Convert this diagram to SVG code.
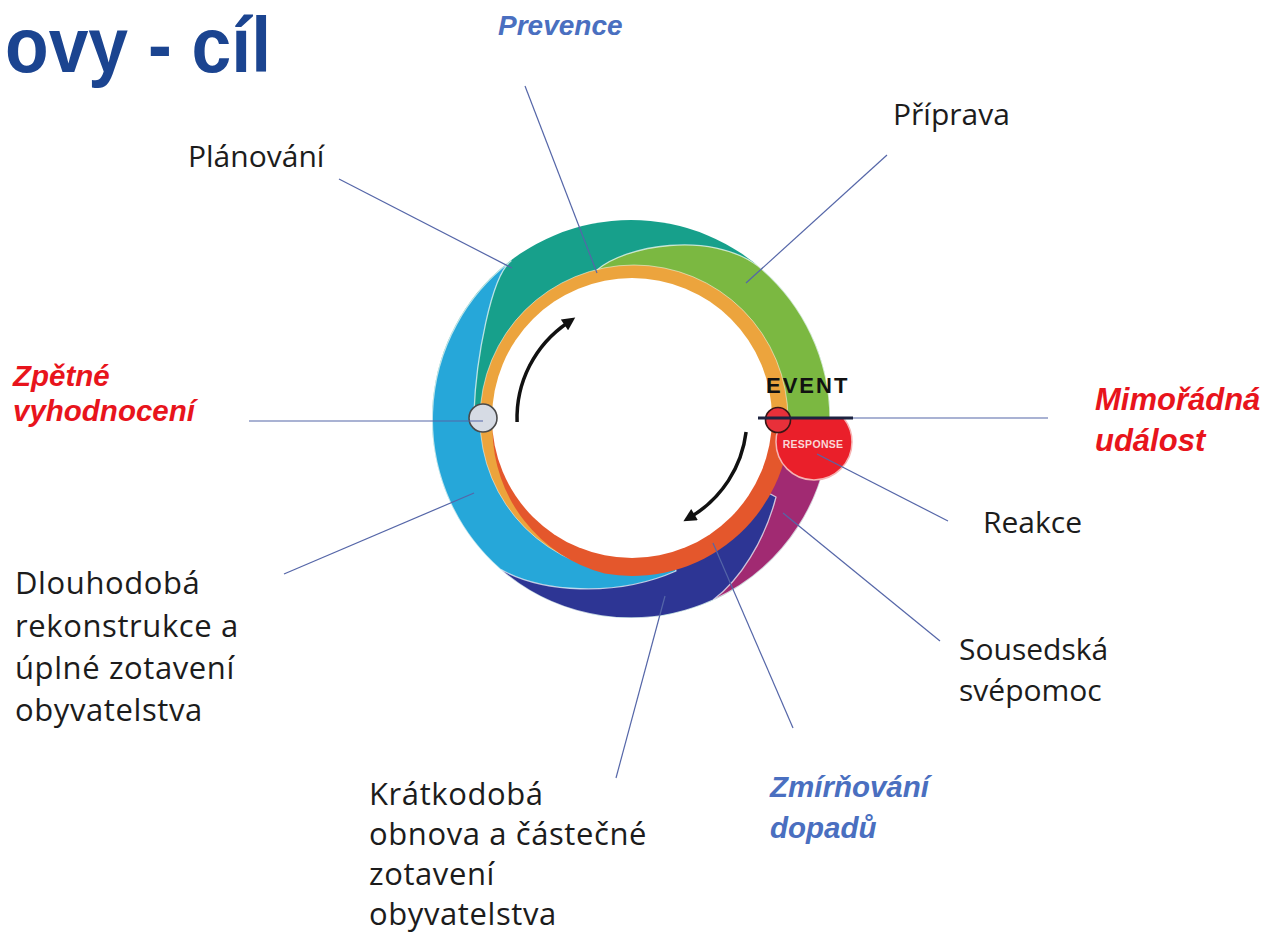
<svg xmlns="http://www.w3.org/2000/svg" width="1270" height="932" viewBox="0 0 1270 932">
<defs>
<style>
.lbl{font-family:"Open Sans","Liberation Sans",sans-serif;font-size:30px;fill:#1c1c1c}
.lbl2{font-family:"Open Sans","Liberation Sans",sans-serif;font-size:31px;fill:#1c1c1c;letter-spacing:0.6px}
.red{font-family:"Liberation Sans",Arial,sans-serif;font-weight:bold;font-style:italic;fill:#e8141c}
.blue{font-family:"Liberation Sans",Arial,sans-serif;font-weight:bold;font-style:italic;fill:#4a6fc0}
.conn{stroke:#5566a8;stroke-width:1.2;fill:none}
.sep{stroke:#ffffff;stroke-opacity:0.7;stroke-width:1.3;stroke-linejoin:round}
.arr{stroke:#111;stroke-width:3.5;fill:none;marker-end:url(#ah)}
</style>
<marker id="ah" viewBox="0 0 10 10" refX="3" refY="5" markerWidth="14" markerHeight="13" markerUnits="userSpaceOnUse" orient="auto"><path d="M0,0 L10,5 L0,10 z" fill="#111"/></marker>
<clipPath id="below"><rect x="700" y="419" width="220" height="120"/></clipPath>
</defs>
<rect width="1270" height="932" fill="#ffffff"/>

<g id="title"><text x="5" y="72" font-family="Liberation Sans, Arial, sans-serif" font-size="78" font-weight="bold" fill="#1b4490" textLength="266" lengthAdjust="spacingAndGlyphs">ovy - cíl</text></g>

<g id="cycle">
  <g id="band-teal"><circle cx="631" cy="419" r="199" fill="#17a08b"/></g>
  <g id="band-magenta"><path class="sep" fill="#a12a72" d="M713,600 A199,199 0 0 0 830,419 L632,419 Z"/></g>
  <g id="band-darkblue"><path class="sep" fill="#2d3594" d="M500,569 A199,199 0 0 0 713,600 C740,580 765,540 776,497 L632,419 Z"/></g>
  <g id="band-lightblue"><path class="sep" fill="#26a7d9" d="M511,261 A199,199 0 0 0 500,569 C540,592 615,598 676,571 L632,419 L474,412 C476,360 491,276 511,261 Z"/></g>
  <g id="band-green"><path class="sep" fill="#7bb841" d="M597,270 C624,246 710,230 758,266 A199,199 0 0 1 830,419 L632,419 Z"/></g>
  <g id="ring">
    <circle cx="634" cy="419" r="154" fill="#eca43d" stroke="#ffffff" stroke-opacity="0.5" stroke-width="1"/>
    <path fill="#e4572c" d="M790,419.5 A158,158 0 0 1 604.6,573.6 A150,150 0 0 1 492.5,430.2 L632,418 Z"/>
    <circle cx="632" cy="418" r="140" fill="#ffffff"/>
  </g>
  <g id="response">
    <circle cx="814" cy="442" r="38" fill="#ea1f2a" stroke="#f6b3b3" stroke-width="1.5" clip-path="url(#below)"/>
    <text x="813" y="448" text-anchor="middle" font-family="Liberation Sans, Arial, sans-serif" font-size="10.5" font-weight="bold" fill="#f9d6d6" letter-spacing="0.3">RESPONSE</text>
  </g>
  <g id="event">
    <circle cx="778" cy="420" r="12.5" fill="#e8303a" stroke="#3a1616" stroke-width="1.6"/>
    <line x1="758" y1="418" x2="853" y2="418" stroke="#1d2340" stroke-width="2.8"/>
    <text x="766" y="393" font-family="Liberation Sans, Arial, sans-serif" font-size="22" font-weight="bold" fill="#111" letter-spacing="2">EVENT</text>
  </g>
  <g id="review-point"><circle cx="483" cy="418" r="14" fill="#d6dbe4" stroke="#4a4a4a" stroke-width="1.6"/></g>
  <g id="arrows">
    <path class="arr" d="M517.1,422 A115,115 0 0 1 567.7,322.7"/>
    <path class="arr" d="M746.1,432 A115,115 0 0 1 691.2,516.6"/>
  </g>
</g>

<g id="connectors">
  <line class="conn" x1="525" y1="86" x2="597" y2="273"/>
  <line class="conn" x1="339" y1="179" x2="512" y2="268"/>
  <line class="conn" x1="887" y1="155" x2="746" y2="283"/>
  <line class="conn" x1="249" y1="421" x2="483" y2="421"/>
  <line class="conn" x1="853" y1="418" x2="1048" y2="418"/>
  <line class="conn" x1="817" y1="454" x2="948" y2="521"/>
  <line class="conn" x1="783" y1="513" x2="940" y2="641"/>
  <line class="conn" x1="713" y1="543" x2="793" y2="728"/>
  <line class="conn" x1="665" y1="596" x2="616" y2="778"/>
  <line class="conn" x1="474" y1="493" x2="284" y2="574"/>
</g>

<g id="label-prevence"><text class="blue" x="498" y="35" font-size="28">Prevence</text></g>
<g id="label-planovani"><text class="lbl" x="188" y="167">Plánování</text></g>
<g id="label-priprava"><text class="lbl" x="893" y="125">Příprava</text></g>
<g id="label-zpetne"><text class="red" font-size="29.5"><tspan x="13" y="386">Zpětné</tspan><tspan x="13" y="421">vyhodnocení</tspan></text></g>
<g id="label-mimoradna"><text class="red" font-size="31"><tspan x="1095" y="410">Mimořádná</tspan><tspan x="1095" y="451">událost</tspan></text></g>
<g id="label-reakce"><text class="lbl" x="983" y="533">Reakce</text></g>
<g id="label-sousedska"><text class="lbl"><tspan x="959" y="660">Sousedská</tspan><tspan x="959" y="701">svépomoc</tspan></text></g>
<g id="label-zmirnovani"><text class="blue" font-size="29.5"><tspan x="770" y="797">Zmírňování</tspan><tspan x="770" y="838">dopadů</tspan></text></g>
<g id="label-kratkodoba"><text class="lbl2"><tspan x="369" y="805">Krátkodobá</tspan><tspan x="369" y="845">obnova a částečné</tspan><tspan x="369" y="885">zotavení</tspan><tspan x="369" y="925">obyvatelstva</tspan></text></g>
<g id="label-dlouhodoba"><text class="lbl2"><tspan x="15" y="594">Dlouhodobá</tspan><tspan x="15" y="637">rekonstrukce a</tspan><tspan x="15" y="679">úplné zotavení</tspan><tspan x="15" y="721">obyvatelstva</tspan></text></g>
</svg>
